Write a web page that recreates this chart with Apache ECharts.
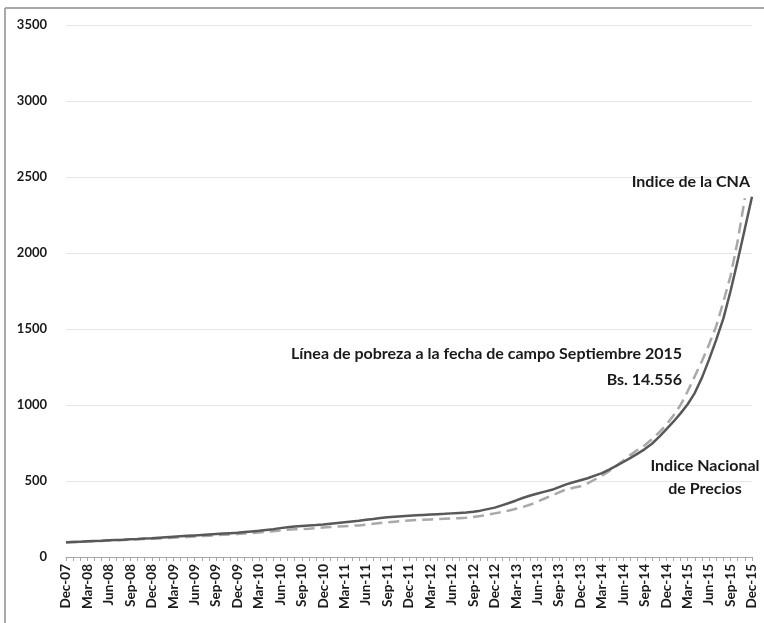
<!DOCTYPE html>
<html>
<head>
<meta charset="utf-8">
<script src="https://cdn.jsdelivr.net/npm/echarts@6/dist/echarts.min.js"></script>
<style>
  html, body { margin: 0; padding: 0; background: #fff; }
  #chart { width: 764px; height: 623px; }
</style>
</head>
<body>
<div id="chart"></div>
<script>
  // meses Dec-07 .. Dec-15
  var months = ['Jan', 'Feb', 'Mar', 'Apr', 'May', 'Jun', 'Jul', 'Aug', 'Sep', 'Oct', 'Nov', 'Dec'];
  var categories = ['Dec-07'];
  for (var y = 8; y <= 15; y++) {
    for (var m = 0; m < 12; m++) {
      categories.push(months[m] + '-' + (y < 10 ? '0' + y : y));
    }
  }

  // Indice Nacional de Precios (linea continua)
  var inpc = [
    97, 99, 101, 103, 105, 107, 110, 112, 114, 117, 119, 122,
    124, 127, 130, 133, 136, 139, 142, 145, 148, 151, 154, 157,
    160, 164, 168, 172, 177, 182, 190, 196, 200, 204, 207, 210,
    214, 219, 224, 229, 234, 239, 245, 250, 256, 261, 265, 268,
    271, 274, 277, 280, 282, 284, 287, 290, 293, 298, 305, 315,
    325, 340, 355, 372, 390, 405, 418, 430, 442, 460, 478, 492,
    505, 518, 535, 552, 575, 600, 625, 652, 680, 710, 745, 790,
    840, 890, 945, 1005, 1080, 1180, 1300, 1430, 1570, 1750, 1950, 2160,
    2370
  ];

  // Indice de la CNA (linea discontinua)
  var cna = [
    96, 98, 100, 102, 104, 106, 108, 110, 112, 114, 116, 118,
    120, 122, 125, 127, 130, 132, 135, 138, 140, 143, 146, 149,
    152, 155, 158, 161, 165, 170, 175, 179, 182, 184, 186, 190,
    194, 197, 200, 203, 206, 208, 212, 218, 224, 228, 232, 236,
    240, 243, 245, 247, 249, 251, 253, 255, 258, 263, 270, 278,
    287, 296, 306, 318, 330, 345, 365, 385, 405, 425, 445, 455,
    465, 485, 510, 535, 565, 600, 635, 672, 705, 735, 775, 820,
    870, 930, 1000, 1090, 1190, 1290, 1400, 1520, 1680, 1850, 2080, 2360
  ];

  var yTicks = [0, 500, 1000, 1500, 2000, 2500, 3000, 3500];

  var font = 'Lato, "Open Sans", sans-serif';
  var chart = echarts.init(document.getElementById('chart'));
  chart.setOption({
    backgroundColor: '#fff',
    animation: false,
    grid: {
      left: 66,
      right: 12,
      top: 25,
      bottom: 66
    },
    xAxis: {
      type: 'category',
      data: categories,
      boundaryGap: false,
      axisLine: { lineStyle: { color: '#a6a6a6', width: 1 } },
      axisTick: { show: true, interval: 0, length: 4, lineStyle: { color: '#a6a6a6' } },
      axisLabel: {
        interval: 2,
        rotate: 90,
        margin: 7,
        color: '#1a1a1a',
        fontFamily: font,
        fontWeight: 'bold',
        fontSize: 13.5
      },
      splitLine: { show: false }
    },
    yAxis: {
      type: 'value',
      min: yTicks[0],
      max: yTicks[yTicks.length - 1],
      interval: 500,
      axisLine: { show: false },
      axisTick: { show: false },
      axisLabel: {
        margin: 19,
        color: '#1a1a1a',
        fontFamily: font,
        fontWeight: 'bold',
        fontSize: 13,
        formatter: function (v) { return String(v); }
      },
      splitLine: { lineStyle: { color: '#e6e6e6', width: 1 } }
    },
    series: [{
      name: 'Indice de la CNA',
      type: 'line',
      data: cna,
      symbol: 'none',
      z: 1,
      lineStyle: { color: '#a9a9a9', width: 2.5, type: [11, 6] }
    }, {
      name: 'Indice Nacional de Precios',
      type: 'line',
      data: inpc,
      symbol: 'none',
      z: 2,
      lineStyle: { color: '#585858', width: 2.5 }
    }],
    graphic: [
      // marco
      { type: 'line', shape: { x1: 5, y1: 8, x2: 764, y2: 8 }, style: { stroke: '#8c8c8c', lineWidth: 1.5 } },
      { type: 'line', shape: { x1: 5, y1: 8, x2: 5, y2: 623 }, style: { stroke: '#8c8c8c', lineWidth: 1.5 } },
      // anotaciones
      { type: 'text', z: 100, x: 750, y: 182, style: { text: 'Indice de la CNA', font: 'bold 16px ' + font, fill: '#1a1a1a', align: 'right', verticalAlign: 'middle' } },
      { type: 'text', x: 682, y: 346, style: { text: 'Línea de pobreza a la fecha de campo Septiembre 2015', font: 'bold 16px ' + font, fill: '#1a1a1a', align: 'right' } },
      { type: 'text', x: 682, y: 372, style: { text: 'Bs. 14.556', font: 'bold 16px ' + font, fill: '#1a1a1a', align: 'right' } },
      { type: 'text', x: 705, y: 458, style: { text: 'Indice Nacional', font: 'bold 16px ' + font, fill: '#1a1a1a', align: 'center' } },
      { type: 'text', x: 705, y: 481, style: { text: 'de Precios', font: 'bold 16px ' + font, fill: '#1a1a1a', align: 'center' } }
    ]
  });
</script>
</body>
</html>
